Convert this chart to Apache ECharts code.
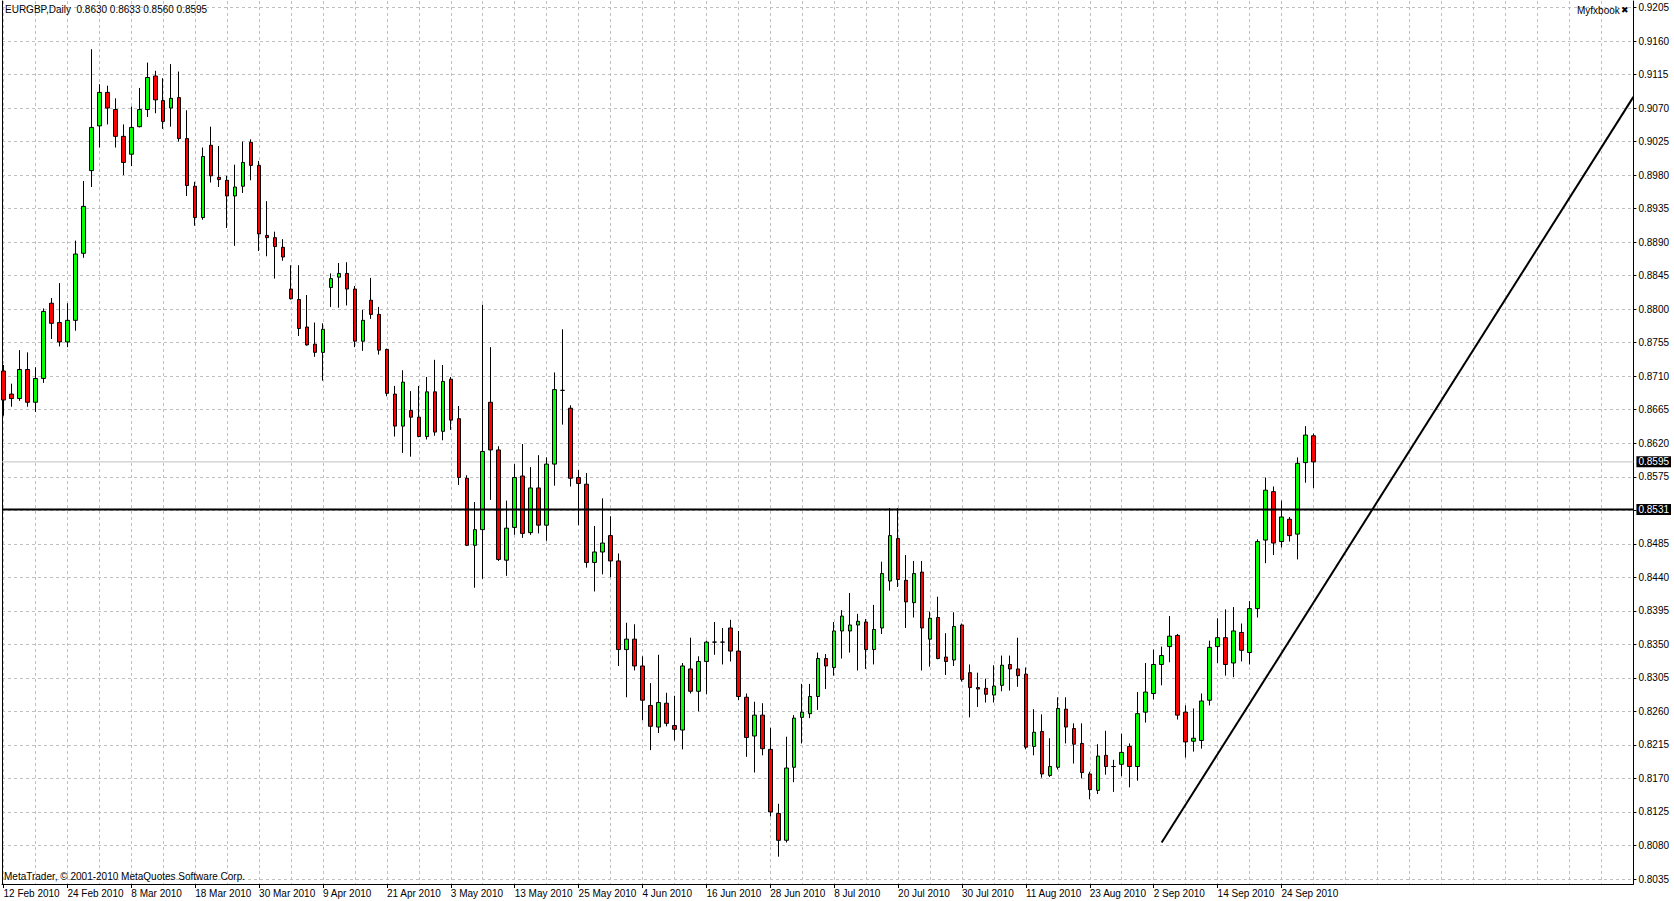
<!DOCTYPE html>
<html><head><meta charset="utf-8">
<script src="https://cdn.jsdelivr.net/npm/echarts@6/dist/echarts.min.js"></script>
<style>html,body{margin:0;padding:0;background:#fff;overflow:hidden}#c{width:1674px;height:901px}</style>
</head><body><div id="c"></div>
<script>
const symbolName = 'EURGBP,Daily';
const lastQuote = [0.8630, 0.8633, 0.8560, 0.8595];
const dateLabels = ['12 Feb 2010','24 Feb 2010','8 Mar 2010','18 Mar 2010','30 Mar 2010','9 Apr 2010','21 Apr 2010','3 May 2010','13 May 2010','25 May 2010','4 Jun 2010','16 Jun 2010','28 Jun 2010','8 Jul 2010','20 Jul 2010','30 Jul 2010','11 Aug 2010','23 Aug 2010','2 Sep 2010','14 Sep 2010','24 Sep 2010'];
const opens = [0.8717,0.8686,0.8680,0.8719,0.8675,0.8707,0.8808,0.8782,0.8756,0.8785,
0.8875,0.8986,0.9046,0.9091,0.9068,0.9032,0.9008,0.9045,0.9068,0.9113,
0.9080,0.9070,0.9084,0.9029,0.8965,0.8923,0.9020,0.8977,0.8973,0.8952,
0.8965,0.9024,0.8993,0.8899,0.8896,0.8883,0.8827,0.8813,0.8776,0.8753,
0.8742,0.8829,0.8843,0.8848,0.8827,0.8757,0.8812,0.8793,0.8746,0.8686,
0.8643,0.8664,0.8655,0.8629,0.8689,0.8636,0.8706,0.8653,0.8573,0.8483,
0.8504,0.8675,0.8611,0.8463,0.8507,0.8576,0.8500,0.8560,0.8510,0.8592,
0.8691,0.8667,0.8574,0.8565,0.8460,0.8474,0.8496,0.8462,0.8343,0.8357,
0.8321,0.8268,0.8239,0.8271,0.8241,0.8235,0.8317,0.8287,0.8327,0.8353,
0.8353,0.8372,0.8341,0.8279,0.8227,0.8255,0.8209,0.8123,0.8087,0.8185,
0.8252,0.8257,0.8280,0.8331,0.8319,0.8368,0.8368,0.8376,0.8380,0.8343,
0.8372,0.8435,0.8492,0.8436,0.8406,0.8447,0.8357,0.8386,0.8333,0.8329,
0.8376,0.8312,0.8292,0.8291,0.8282,0.8295,0.8323,0.8317,0.8310,0.8213,
0.8233,0.8174,0.8185,0.8263,0.8237,0.8217,0.8176,0.8154,0.8201,0.8186,
0.8189,0.8213,0.8186,0.8259,0.8284,0.8323,0.8347,0.8362,0.8259,0.8220,
0.8221,0.8275,0.8347,0.8359,0.8325,0.8366,0.8339,0.8398,0.8490,0.8555,
0.8488,0.8518,0.8498,0.8594,0.8630];
const highs = [0.8725,0.8700,0.8745,0.8742,0.8722,0.8801,0.8815,0.8835,0.8808,0.8892,
0.8972,0.9149,0.9102,0.9100,0.9083,0.9048,0.9072,0.9097,0.9131,0.9120,
0.9110,0.9129,0.9119,0.9067,0.8971,0.9017,0.9045,0.9019,0.8979,0.8994,
0.9025,0.9028,0.8999,0.8945,0.8904,0.8894,0.8859,0.8859,0.8819,0.8782,
0.8781,0.8848,0.8862,0.8863,0.8831,0.8799,0.8842,0.8803,0.8747,0.8697,
0.8718,0.8690,0.8697,0.8709,0.8732,0.8725,0.8709,0.8670,0.8577,0.8541,
0.8806,0.8749,0.8616,0.8543,0.8592,0.8619,0.8588,0.8604,0.8601,0.8715,
0.8773,0.8671,0.8584,0.8580,0.8509,0.8546,0.8522,0.8472,0.8379,0.8377,
0.8334,0.8298,0.8336,0.8285,0.8281,0.8325,0.8359,0.8334,0.8355,0.8380,
0.8372,0.8383,0.8368,0.8284,0.8273,0.8271,0.8238,0.8136,0.8226,0.8255,
0.8297,0.8297,0.8339,0.8337,0.8380,0.8396,0.8419,0.8391,0.8384,0.8403,
0.8461,0.8533,0.8533,0.8470,0.8462,0.8462,0.8394,0.8414,0.8365,0.8393,
0.8378,0.8323,0.8312,0.8304,0.8322,0.8335,0.8335,0.8359,0.8319,0.8263,
0.8256,0.8224,0.8279,0.8279,0.8244,0.8244,0.8179,0.8216,0.8234,0.8195,
0.8230,0.8217,0.8286,0.8325,0.8343,0.8347,0.8388,0.8364,0.8268,0.8264,
0.8284,0.8355,0.8385,0.8397,0.8400,0.8378,0.8408,0.8491,0.8574,0.8562,
0.8543,0.8521,0.8601,0.8643,0.8633];
const lows = [0.8657,0.8669,0.8677,0.8669,0.8662,0.8701,0.8760,0.8750,0.8749,0.8771,
0.8869,0.8964,0.9017,0.9048,0.9017,0.8980,0.8992,0.9044,0.9058,0.9063,
0.9042,0.9045,0.9025,0.8952,0.8912,0.8920,0.8970,0.8964,0.8909,0.8885,
0.8956,0.8973,0.8878,0.8871,0.8841,0.8865,0.8813,0.8764,0.8751,0.8736,
0.8704,0.8803,0.8802,0.8805,0.8749,0.8744,0.8787,0.8739,0.8683,0.8629,
0.8607,0.8602,0.8628,0.8625,0.8630,0.8624,0.8638,0.8564,0.8482,0.8426,
0.8438,0.8544,0.8462,0.8442,0.8497,0.8493,0.8497,0.8499,0.8489,0.8563,
0.8645,0.8562,0.8510,0.8453,0.8421,0.8444,0.8440,0.8321,0.8279,0.8315,
0.8248,0.8208,0.8231,0.8240,0.8221,0.8209,0.8284,0.8260,0.8283,0.8336,
0.8323,0.8327,0.8275,0.8199,0.8178,0.8201,0.8119,0.8065,0.8084,0.8165,
0.8217,0.8251,0.8262,0.8290,0.8308,0.8331,0.8339,0.8315,0.8317,0.8323,
0.8364,0.8422,0.8427,0.8372,0.8386,0.8315,0.8320,0.8330,0.8309,0.8321,
0.8300,0.8252,0.8266,0.8272,0.8272,0.8287,0.8288,0.8293,0.8209,0.8201,
0.8171,0.8172,0.8182,0.8217,0.8190,0.8170,0.8142,0.8149,0.8175,0.8152,
0.8173,0.8158,0.8167,0.8245,0.8276,0.8295,0.8326,0.8249,0.8198,0.8206,
0.8210,0.8268,0.8325,0.8308,0.8306,0.8327,0.8323,0.8386,0.8459,0.8470,
0.8480,0.8488,0.8464,0.8567,0.8560];
const closes = [0.8678,0.8680,0.8719,0.8675,0.8707,0.8797,0.8781,0.8756,0.8785,0.8874,
0.8938,0.9044,0.9091,0.9070,0.9032,0.8997,0.9044,0.9068,0.9111,0.9081,
0.9052,0.9083,0.9029,0.8966,0.8923,0.9005,0.8979,0.8974,0.8952,0.8964,
0.8997,0.8993,0.8901,0.8896,0.8884,0.8870,0.8814,0.8774,0.8752,0.8742,
0.8773,0.8841,0.8848,0.8827,0.8757,0.8785,0.8793,0.8745,0.8687,0.8643,
0.8702,0.8655,0.8629,0.8689,0.8635,0.8703,0.8651,0.8574,0.8483,0.8504,
0.8609,0.8611,0.8464,0.8506,0.8574,0.8499,0.8560,0.8510,0.8592,0.8692,
0.8691,0.8573,0.8566,0.8460,0.8474,0.8486,0.8462,0.8343,0.8357,0.8321,
0.8275,0.8240,0.8272,0.8244,0.8236,0.8321,0.8287,0.8327,0.8353,0.8353,
0.8353,0.8341,0.8280,0.8225,0.8255,0.8210,0.8125,0.8087,0.8184,0.8251,
0.8259,0.8280,0.8331,0.8321,0.8368,0.8388,0.8376,0.8381,0.8343,0.8370,
0.8445,0.8496,0.8437,0.8407,0.8445,0.8372,0.8385,0.8331,0.8327,0.8374,
0.8303,0.8292,0.8290,0.8283,0.8294,0.8322,0.8317,0.8308,0.8212,0.8232,
0.8176,0.8186,0.8264,0.8239,0.8216,0.8178,0.8155,0.8200,0.8186,0.8186,
0.8205,0.8186,0.8257,0.8286,0.8323,0.8335,0.8361,0.8255,0.8219,0.8224,
0.8274,0.8346,0.8359,0.8323,0.8368,0.8342,0.8398,0.8488,0.8557,0.8486,
0.8521,0.8496,0.8593,0.8631,0.8595];
const priceTicks = [0.8035,0.8080,0.8125,0.8170,0.8215,0.8260,0.8305,0.8350,0.8395,0.8440,
0.8485,0.8530,0.8575,0.8620,0.8665,0.8710,0.8755,0.8800,0.8845,0.8890,
0.8935,0.8980,0.9025,0.9070,0.9115,0.9160,0.9205];
const levelPrice = 0.8531;
const bidPrice = 0.8595;
const trendStart = [145, 0.8084];
const trendEnd = [204.06, 0.9085];
const copyrightText = 'MetaTrader, \u00a9 2001-2010 MetaQuotes Software Corp.';
const brandText = 'Myfxbook';

const BARS_PER_LABEL = 8, BARS_PER_GRID = 4;
const X_MIN = -0.1875, X_MAX = 204.0625;
const Y_MIN = 0.80283, Y_MAX = 0.92137;
const FONT = "'Liberation Sans', Arial, sans-serif";

const candleData = opens.map((o, i) => [i, o, closes[i], lows[i], highs[i]]);
const labelBars = dateLabels.map((d, k) => k * BARS_PER_LABEL);
const gridBars = [];
for (let b = 0; b <= X_MAX; b += BARS_PER_GRID) gridBars.push(b);
const priceLabelValues = priceTicks.filter(v => Math.abs(v - levelPrice) > 0.0003);

const chart = echarts.init(document.getElementById('c'), null, {renderer: 'svg', width: 1674, height: 901});
const gridLine = {color: '#c0c0c0', width: 1, type: [3, 3]};
chart.setOption({
  animation: false,
  backgroundColor: '#ffffff',
  title: [
    {text: symbolName + '  ' + lastQuote.map(v => v.toFixed(4)).join(' '), left: 5, top: 4, padding: 0,
     textStyle: {fontSize: 10, fontWeight: 'normal', color: '#000', fontFamily: FONT}},
    {text: brandText, left: 1577, top: 5, padding: 0,
     textStyle: {fontSize: 10, fontWeight: 'normal', color: '#000', fontFamily: FONT}},
    {text: '\u2716', left: 1621, top: 5, padding: 0,
     textStyle: {fontSize: 9, fontWeight: 'bold', color: '#000', fontFamily: 'DejaVu Sans'}},
    {text: copyrightText, left: 4, top: 871, padding: 0,
     textStyle: {fontSize: 10, fontWeight: 'normal', color: '#000', fontFamily: FONT}}
  ],
  grid: {left: 2, right: 38, top: 1, bottom: 17, containLabel: false},
  xAxis: [
    {type: 'value', min: X_MIN, max: X_MAX, position: 'bottom',
     axisLine: {show: true, onZero: false, lineStyle: {color: '#000', width: 1}},
     axisTick: {show: true, length: 4, customValues: labelBars, lineStyle: {color: '#000'}},
     axisLabel: {show: true, customValues: labelBars, align: 'left', margin: 4, padding: [0, 0, 0, 0],
       formatter: v => dateLabels[Math.round(v / BARS_PER_LABEL)] || '',
       fontSize: 10, color: '#000', fontFamily: FONT},
     splitLine: {show: false}},
    {type: 'value', min: X_MIN, max: X_MAX, position: 'bottom', offset: 0,
     axisLine: {show: false}, axisLabel: {show: false},
     axisTick: {show: false, customValues: gridBars},
     splitLine: {show: true, lineStyle: gridLine}}
  ],
  yAxis: [
    {type: 'value', min: Y_MIN, max: Y_MAX, position: 'right', scale: true,
     axisLine: {show: true, onZero: false, lineStyle: {color: '#000', width: 1}},
     axisTick: {show: true, length: 3, customValues: priceTicks, lineStyle: {color: '#000'}},
     axisLabel: {show: true, customValues: priceLabelValues, margin: 5, formatter: v => v.toFixed(4),
       fontSize: 10, color: '#000', fontFamily: FONT},
     splitLine: {show: true, lineStyle: gridLine}},
    {type: 'value', min: Y_MIN, max: Y_MAX, position: 'right', offset: 0, scale: true,
     axisLine: {show: false}, axisTick: {show: false}, splitLine: {show: false},
     axisLabel: {show: true, customValues: [levelPrice, bidPrice], margin: 3, formatter: v => v.toFixed(4),
       fontSize: 10, color: '#fff', backgroundColor: '#000', padding: [1, 2, 0, 2], fontFamily: FONT}},
    {type: 'value', min: Y_MIN, max: Y_MAX, position: 'left', offset: 0, scale: true,
     axisLine: {show: true, onZero: false, lineStyle: {color: '#000', width: 1}},
     axisTick: {show: false}, axisLabel: {show: false}, splitLine: {show: false}}
  ],
  series: [
    {type: 'line', name: 'bid', xAxisIndex: 0, yAxisIndex: 0, data: [[X_MIN, bidPrice], [X_MAX, bidPrice]],
     symbol: 'none', lineStyle: {color: '#c0c0c0', width: 1}, z: 1, silent: true},
    {type: 'candlestick', xAxisIndex: 0, yAxisIndex: 0, data: candleData,
     encode: {x: 0, y: [1, 2, 3, 4]}, barWidth: 4, z: 2,
     itemStyle: {color: '#00ff00', color0: '#ff0000', borderColor: '#000', borderColor0: '#000', borderWidth: 1}},
    {type: 'line', name: 'level', xAxisIndex: 0, yAxisIndex: 0, data: [[X_MIN, levelPrice], [X_MAX, levelPrice]],
     symbol: 'none', lineStyle: {color: '#000', width: 2}, z: 4, silent: true},
    {type: 'line', name: 'trend', xAxisIndex: 0, yAxisIndex: 0, data: [trendStart, trendEnd], symbol: 'none',
     lineStyle: {color: '#000', width: 2}, clip: true, z: 5, silent: true}
  ]
});
</script></body></html>
